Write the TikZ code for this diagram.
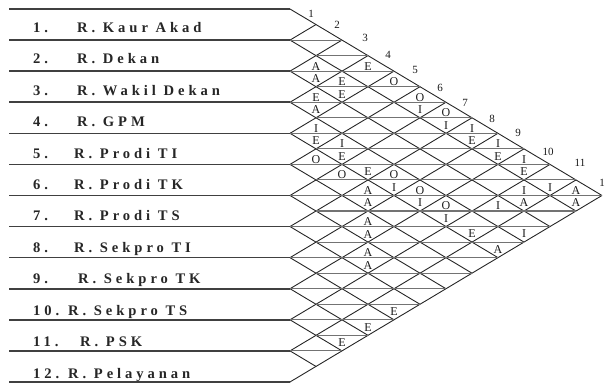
\documentclass[tikz,border=0pt]{standalone}
\usepackage{fontspec}
\setmainfont{Liberation Serif}
\newfontfamily\lblfont[LetterSpace=27]{Liberation Serif}
\tikzset{
  rowline/.style={line width=1.6pt, draw=black!75},
  gridline/.style={line width=0.9pt, draw=black!85},
  hline/.style={line width=1.1pt, draw=black!55},
  lbl/.style={inner sep=0pt, anchor=base west, text=black!85, font={\lblfont\bfseries\fontsize{14.6}{16}\selectfont}},
  rel/.style={inner sep=0pt, text=black!90, font={\fontsize{12}{12}\selectfont}},
  numlbl/.style={inner sep=0pt, text=black!90, font={\fontsize{11}{12}\selectfont}}
}
\begin{document}
\begin{tikzpicture}[x=1pt,y=-1pt]
\useasboundingbox (0,0) rectangle (606,383);
% row lines on the left
\foreach \k in {0,...,12} {
  \draw[rowline] (9,{9+31.08*\k}) -- (290,{9+31.08*\k});
}
% diagonal grid
\foreach \k in {0,...,12} {
  \draw[gridline] (290,{9+31.08*\k}) -- ({290+26*(12-\k)},{9+15.54*(\k+12)});
  \draw[gridline] (290,{9+31.08*\k}) -- ({290+26*\k},{9+15.54*\k});
}
% horizontal lines through diamond centres
\foreach \n in {2,...,22} {
  \pgfmathsetmacro\xl{mod(\n,2)}
  \pgfmathsetmacro\xr{min(\n,24-\n)}
  \draw[hline] ({290+26*\xl},{9+15.54*\n}) -- ({290+26*\xr},{9+15.54*\n});
}
% row names
\foreach \i/\x/\t in {1/77/R. Kaur Akad, 2/77/R. Dekan, 3/77/R. Wakil Dekan, 4/77/R. GPM,
  5/74/R. Prodi TI, 6/74/R. Prodi TK, 7/74/R. Prodi TS, 8/74/R. Sekpro TI,
  9/78/R. Sekpro TK, 10/68/R. Sekpro TS, 11/80/R. PSK, 12/68/R. Pelayanan} {
  \pgfmathsetmacro\yb{9+31.08*\i-8+0.4*(\i-1)}
  \node[lbl] (num\i) at (33,\yb) {\i.};
  \node[lbl] (room\i) at (\x,\yb) {\t};
}
% column numbers
\foreach \i/\x/\y in {1/311/14, 2/337/25, 3/365/38, 4/388/55, 5/415/70, 6/440/88,
  7/465/103, 8/492/119, 9/518/133, 10/548/152, 11/580/163} {
  \node[numlbl] (col\i) at (\x,\y) {\i};
}
\node[numlbl] (col12) at (602,183) {1};
% relationship letters, upper halves
\foreach \m/\n/\L in {1/4/A, 3/4/E, 2/5/E, 4/5/O, 1/6/E, 5/6/O, 6/7/O, 1/8/I, 7/8/I,
  2/9/I, 8/9/I, 1/10/O, 9/10/I, 2/11/O, 4/11/O, 3/12/A, 5/12/O, 9/12/I, 11/12/A,
  6/13/O, 8/13/I, 3/14/A, 3/16/A} {
  \node[rel] (u\m x\n) at ({290+26*\m},{9+15.54*\n-5}) {\L};
}
% relationship letters, lower halves
\foreach \m/\n/\L in {1/4/A, 2/5/E, 1/6/A, 5/6/I, 6/7/I, 1/8/E, 7/8/E, 2/9/E, 8/9/E,
  3/10/E, 9/10/E, 4/11/I, 10/11/I, 3/12/A, 5/12/I, 9/12/A, 11/12/A, 6/13/I, 3/14/A,
  7/14/E, 9/14/I, 8/15/A, 3/16/A, 4/19/E, 3/20/E, 2/21/E} {
  \node[rel] (d\m x\n) at ({290+26*\m},{9+15.54*\n+7.5}) {\L};
}
\end{tikzpicture}
\end{document}
